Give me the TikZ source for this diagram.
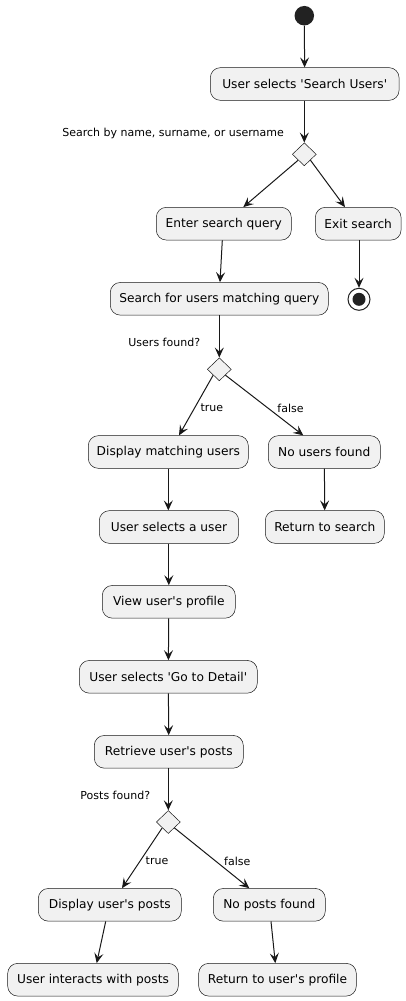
\documentclass[tikz,border=0pt]{standalone}
\usepackage{fontspec}
\setmainfont{DejaVu Sans}
\usetikzlibrary{arrows.meta,shapes.geometric,calc}
\definecolor{boxfill}{HTML}{F1F1F1}
\definecolor{lineclr}{HTML}{181818}
\definecolor{dotclr}{HTML}{222222}
\newcommand{\sq}{\textquotesingle}
\begin{document}
\begin{tikzpicture}[x=1pt,y=-1pt,
  act/.style={draw=lineclr,line width=0.5pt,fill=boxfill,rounded corners=10pt,
    minimum height=32.7pt,inner sep=0pt,font=\fontsize{12.2}{14}\selectfont},
  choice/.style={diamond,draw=lineclr,line width=0.5pt,fill=boxfill,
    minimum width=24pt,minimum height=23pt,inner sep=0pt},
  flow/.style={draw=lineclr,line width=1pt,-{Stealth[length=10pt,width=9pt,inset=4pt]}},
  lbl/.style={font=\fontsize{11}{13}\selectfont,inner sep=0pt,text=black}]
\useasboundingbox (0,0) rectangle (406,1001);

\node[circle,fill=dotclr,minimum size=19.5pt,inner sep=0pt] (start) at (304.3,15.7) {};
\node[act,minimum width=188.7pt] (sel) at (304.7,84) {User selects \sq Search Users\sq};
\node[choice] (d1) at (304.3,154.3) {};
\node[lbl,anchor=east] (q1) at (284,133.3) {Search by name, surname, or username};
\node[act,minimum width=135pt] (enter) at (223.8,223.7) {Enter search query};
\node[act,minimum width=85.7pt] (exit) at (358.2,223.7) {Exit search};
\node[circle,draw=dotclr,line width=1pt,fill=white,minimum size=22pt,inner sep=0pt] (stop) at (359,299.3) {};
\node[circle,fill=dotclr,minimum size=13pt,inner sep=0pt] (stopin) at (stop) {};
\node[act,minimum width=218pt] (search) at (219.3,298.8) {Search for users matching query};
\node[choice] (d2) at (219.3,369.3) {};
\node[lbl,anchor=east] (q2) at (200.3,342) {Users found?};
\node[act,minimum width=160pt] (disp) at (168.3,452) {Display matching users};
\node[act,minimum width=112pt] (nousr) at (324.3,452) {No users found};
\node[act,minimum width=139.4pt] (pick) at (169,527) {User selects a user};
\node[act,minimum width=119pt] (ret) at (324.8,527) {Return to search};
\node[act,minimum width=133pt] (view) at (168.8,601.8) {View user\sq s profile};
\node[act,minimum width=178pt] (detail) at (168.3,676.8) {User selects \sq Go to Detail\sq};
\node[act,minimum width=149pt] (posts) at (168.8,751.8) {Retrieve user\sq s posts};
\node[choice] (d3) at (168.3,822) {};
\node[lbl,anchor=east] (q3) at (150.3,795) {Posts found?};
\node[act,minimum width=143pt] (dposts) at (109.8,904.8) {Display user\sq s posts};
\node[act,minimum width=112pt] (noposts) at (269.3,904.8) {No posts found};
\node[act,minimum width=170.6pt] (interact) at (93,979.7) {User interacts with posts};
\node[act,minimum width=157.6pt] (back) at (277.5,979.7) {Return to user\sq s profile};

\node[lbl] (t1) at (211.8,408) {true};
\node[lbl] (f1) at (290.5,408) {false};
\node[lbl] (t2) at (157,861) {true};
\node[lbl] (f2) at (237.3,861) {false};

\draw[flow] (start) -- (sel);
\draw[flow] (sel.south -| d1) -- (d1.north);
\draw[flow] (d1.south west) -- ($(enter.north)+(19.5,0)$);
\draw[flow] (d1.south east) -- ($(exit.north)+(-13.2,0)$);
\draw[flow] ($(enter.south)+(-1.5,0)$) -- ($(search.north)+(0.7,0)$);
\draw[flow] (exit.south -| stop) -- (stop.north);
\draw[flow] (search.south -| d2) -- (d2.north);
\draw[flow] (d2.south west) -- ($(disp.north)+(10.7,0)$);
\draw[flow] (d2.south east) -- ($(nousr.north)+(-21,0)$);
\draw[flow] (disp) -- (disp |- pick.north);
\draw[flow] (nousr) -- (ret);
\draw[flow] (pick.south -| view) -- (view);
\draw[flow] (view) -- (detail);
\draw[flow] (detail) -- (posts);
\draw[flow] (posts.south -| d3) -- (d3.north);
\draw[flow] (d3.south west) -- ($(dposts.north)+(12.2,0)$);
\draw[flow] (d3.south east) -- ($(noposts.north)+(-20,0)$);
\draw[flow] ($(dposts.south)+(-4.1,0)$) -- ($(interact.north)+(3.7,0)$);
\draw[flow] ($(noposts.south)+(1.7,0)$) -- ($(back.north)+(-2.2,0)$);
\end{tikzpicture}
\end{document}
